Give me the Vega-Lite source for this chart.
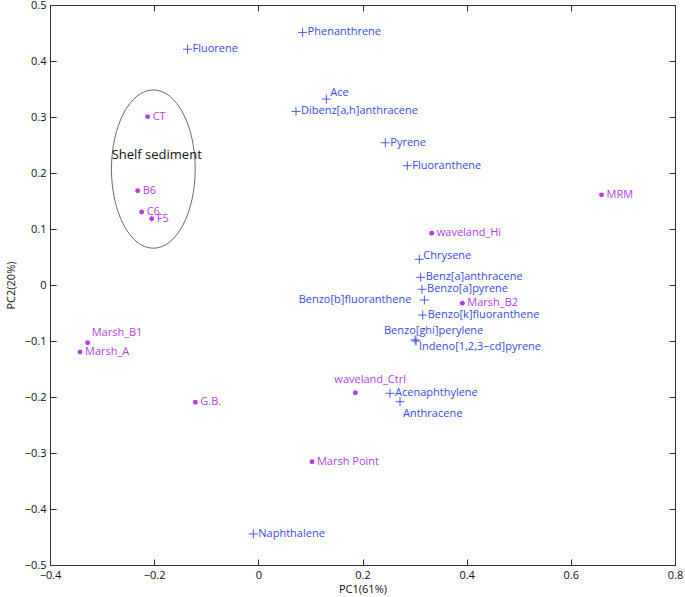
{
  "$schema": "https://vega.github.io/schema/vega-lite/v6.json",
  "width": 625,
  "height": 560,
  "autosize": {"type": "none"},
  "padding": {"left": 50, "top": 5, "right": 10, "bottom": 32},
  "background": "white",
  "config": {
    "view": {"stroke": null},
    "font": "Open Sans",
    "axis": {
      "domainColor": "#333",
      "tickColor": "#333",
      "labelColor": "#111",
      "titleColor": "#111",
      "labelFont": "Open Sans",
      "titleFont": "Open Sans",
      "labelFontSize": 11,
      "titleFontSize": 11,
      "titleFontWeight": "normal",
      "grid": false,
      "tickSize": -6,
      "labelFlush": false,
      "labelOverlap": false
    }
  },
  "datasets": {
    "points": [
      {"name": "CT", "pc1": -0.2125, "pc2": 0.3006, "type": "sample"},
      {"name": "B6", "pc1": -0.2317, "pc2": 0.1684, "type": "sample"},
      {"name": "C6", "pc1": -0.224, "pc2": 0.1304, "type": "sample"},
      {"name": "F5", "pc1": -0.2047, "pc2": 0.1184, "type": "sample"},
      {"name": "MRM", "pc1": 0.659, "pc2": 0.161, "type": "sample"},
      {"name": "waveland_Hi", "pc1": 0.333, "pc2": 0.0923, "type": "sample"},
      {"name": "Marsh_B2", "pc1": 0.3917, "pc2": -0.0327, "type": "sample"},
      {"name": "waveland_Ctrl", "pc1": 0.1863, "pc2": -0.1923, "type": "sample"},
      {"name": "Marsh Point", "pc1": 0.103, "pc2": -0.3155, "type": "sample"},
      {"name": "Marsh_B1", "pc1": -0.3277, "pc2": -0.103, "type": "sample"},
      {"name": "Marsh_A", "pc1": -0.3424, "pc2": -0.1196, "type": "sample"},
      {"name": "G.B.", "pc1": -0.121, "pc2": -0.2095, "type": "sample"},
      {"name": "Fluorene", "pc1": -0.136, "pc2": 0.421, "type": "PAH"},
      {"name": "Phenanthrene", "pc1": 0.085, "pc2": 0.451, "type": "PAH"},
      {"name": "Ace", "pc1": 0.1306, "pc2": 0.332, "type": "PAH"},
      {"name": "Dibenz[a,h]anthracene", "pc1": 0.0723, "pc2": 0.31, "type": "PAH"},
      {"name": "Pyrene", "pc1": 0.2438, "pc2": 0.254, "type": "PAH"},
      {"name": "Fluoranthene", "pc1": 0.286, "pc2": 0.213, "type": "PAH"},
      {"name": "Chrysene", "pc1": 0.309, "pc2": 0.0459, "type": "PAH"},
      {"name": "Benz[a]anthracene", "pc1": 0.3117, "pc2": 0.0137, "type": "PAH"},
      {"name": "Benzo[a]pyrene", "pc1": 0.3143, "pc2": -0.0077, "type": "PAH"},
      {"name": "Benzo[b]fluoranthene", "pc1": 0.3188, "pc2": -0.0268, "type": "PAH"},
      {"name": "Benzo[k]fluoranthene", "pc1": 0.3156, "pc2": -0.0536, "type": "PAH"},
      {"name": "Benzo[ghi]perylene", "pc1": 0.3008, "pc2": -0.098, "type": "PAH"},
      {"name": "Indeno[1,2,3−cd]pyrene", "pc1": 0.3028, "pc2": -0.1, "type": "PAH"},
      {"name": "Acenaphthylene", "pc1": 0.2528, "pc2": -0.1934, "type": "PAH"},
      {"name": "Anthracene", "pc1": 0.272, "pc2": -0.2084, "type": "PAH"},
      {"name": "Naphthalene", "pc1": -0.0096, "pc2": -0.4446, "type": "PAH"}
    ],
    "group": [
      {"label": "Shelf sediment", "cx": -0.2016, "cy": 0.207, "tx": -0.2816, "ty": 0.232}
    ]
  },
  "resolve": {"axis": {"x": "independent", "y": "independent"}},
  "layer": [
    {
      "data": {"name": "group"},
      "mark": {"type": "point", "shape": "M-0.529,0A0.529,1,0,1,0,0.529,0A0.529,1,0,1,0,-0.529,0Z", "size": 25060, "filled": false, "stroke": "#444", "strokeWidth": 0.8, "opacity": 1},
      "encoding": {
        "x": {"field": "cx", "type": "quantitative", "scale": {"domain": [-0.4, 0.8], "nice": false, "zero": false},
          "axis": {"orient": "bottom", "values": [-0.4, -0.2, 0, 0.2, 0.4, 0.6, 0.8], "format": "~g", "title": "PC1(61%)", "labelPadding": 10, "titlePadding": 3}},
        "y": {"field": "cy", "type": "quantitative", "scale": {"domain": [-0.5, 0.5], "nice": false, "zero": false},
          "axis": {"orient": "left", "values": [-0.5, -0.4, -0.3, -0.2, -0.1, 0, 0.1, 0.2, 0.3, 0.4, 0.5], "format": "~g", "title": "PC2(20%)", "labelPadding": 10, "titlePadding": 8}}
      }
    },
    {
      "data": {"name": "group"},
      "mark": {"type": "text", "align": "left", "baseline": "middle", "fontSize": 13, "color": "#111", "font": "Open Sans"},
      "encoding": {
        "x": {"field": "tx", "type": "quantitative", "axis": {"orient": "top", "values": [-0.4, -0.2, 0, 0.2, 0.4, 0.6, 0.8], "labels": false, "title": null}},
        "y": {"field": "ty", "type": "quantitative", "axis": {"orient": "right", "values": [-0.5, -0.4, -0.3, -0.2, -0.1, 0, 0.1, 0.2, 0.3, 0.4, 0.5], "labels": false, "title": null}},
        "text": {"field": "label"}
      }
    },
    {
      "data": {"name": "points"},
      "transform": [{"filter": "datum.type === 'PAH'"}],
      "mark": {"type": "point", "shape": "M-1,0H1M0,-1V1", "size": 81, "filled": false, "strokeWidth": 0.9, "opacity": 1},
      "encoding": {
        "x": {"field": "pc1", "type": "quantitative", "axis": null},
        "y": {"field": "pc2", "type": "quantitative", "axis": null},
        "color": {"field": "type", "type": "nominal", "scale": {"domain": ["PAH", "sample"], "range": ["#3a4bdb", "#b23ee4"]}, "legend": null}
      }
    },
    {
      "data": {"name": "points"},
      "transform": [{"filter": "datum.type === 'sample'"}],
      "mark": {"type": "circle", "size": 24, "opacity": 1},
      "encoding": {
        "x": {"field": "pc1", "type": "quantitative", "axis": null},
        "y": {"field": "pc2", "type": "quantitative", "axis": null},
        "color": {"field": "type", "type": "nominal", "legend": null}
      }
    },
    {
      "data": {"name": "points"},
      "transform": [{"filter": {"not": {"field": "name", "oneOf": ["Ace", "Chrysene", "Benzo[b]fluoranthene", "Benzo[ghi]perylene", "Indeno[1,2,3−cd]pyrene", "waveland_Ctrl", "Anthracene", "Marsh_B1"]}}}],
      "mark": {"type": "text", "align": "left", "baseline": "middle", "dx": 5, "fontSize": 11, "font": "Open Sans"},
      "encoding": {
        "x": {"field": "pc1", "type": "quantitative", "axis": null},
        "y": {"field": "pc2", "type": "quantitative", "axis": null},
        "text": {"field": "name"},
        "color": {"field": "type", "type": "nominal", "legend": null}
      }
    },
    {
      "data": {"name": "points"},
      "transform": [{"filter": {"field": "name", "oneOf": ["Ace"]}}],
      "mark": {"type": "text", "align": "left", "baseline": "middle", "dx": 4, "dy": -6, "fontSize": 11, "font": "Open Sans"},
      "encoding": {
        "x": {"field": "pc1", "type": "quantitative", "axis": null},
        "y": {"field": "pc2", "type": "quantitative", "axis": null},
        "text": {"field": "name"},
        "color": {"field": "type", "type": "nominal", "legend": null}
      }
    },
    {
      "data": {"name": "points"},
      "transform": [{"filter": {"field": "name", "oneOf": ["Chrysene"]}}],
      "mark": {"type": "text", "align": "left", "baseline": "middle", "dx": 4, "dy": -3, "fontSize": 11, "font": "Open Sans"},
      "encoding": {
        "x": {"field": "pc1", "type": "quantitative", "axis": null},
        "y": {"field": "pc2", "type": "quantitative", "axis": null},
        "text": {"field": "name"},
        "color": {"field": "type", "type": "nominal", "legend": null}
      }
    },
    {
      "data": {"name": "points"},
      "transform": [{"filter": {"field": "name", "oneOf": ["Benzo[b]fluoranthene"]}}],
      "mark": {"type": "text", "align": "right", "baseline": "middle", "dx": -13, "fontSize": 11, "font": "Open Sans"},
      "encoding": {
        "x": {"field": "pc1", "type": "quantitative", "axis": null},
        "y": {"field": "pc2", "type": "quantitative", "axis": null},
        "text": {"field": "name"},
        "color": {"field": "type", "type": "nominal", "legend": null}
      }
    },
    {
      "data": {"name": "points"},
      "transform": [{"filter": {"field": "name", "oneOf": ["Benzo[ghi]perylene"]}}],
      "mark": {"type": "text", "align": "left", "baseline": "middle", "dx": -31, "dy": -9, "fontSize": 11, "font": "Open Sans"},
      "encoding": {
        "x": {"field": "pc1", "type": "quantitative", "axis": null},
        "y": {"field": "pc2", "type": "quantitative", "axis": null},
        "text": {"field": "name"},
        "color": {"field": "type", "type": "nominal", "legend": null}
      }
    },
    {
      "data": {"name": "points"},
      "transform": [{"filter": {"field": "name", "oneOf": ["Indeno[1,2,3−cd]pyrene"]}}],
      "mark": {"type": "text", "align": "left", "baseline": "middle", "dx": 3, "dy": 6, "fontSize": 11, "font": "Open Sans"},
      "encoding": {
        "x": {"field": "pc1", "type": "quantitative", "axis": null},
        "y": {"field": "pc2", "type": "quantitative", "axis": null},
        "text": {"field": "name"},
        "color": {"field": "type", "type": "nominal", "legend": null}
      }
    },
    {
      "data": {"name": "points"},
      "transform": [{"filter": {"field": "name", "oneOf": ["waveland_Ctrl"]}}],
      "mark": {"type": "text", "align": "left", "baseline": "middle", "dx": -21, "dy": -13, "fontSize": 11, "font": "Open Sans"},
      "encoding": {
        "x": {"field": "pc1", "type": "quantitative", "axis": null},
        "y": {"field": "pc2", "type": "quantitative", "axis": null},
        "text": {"field": "name"},
        "color": {"field": "type", "type": "nominal", "legend": null}
      }
    },
    {
      "data": {"name": "points"},
      "transform": [{"filter": {"field": "name", "oneOf": ["Anthracene"]}}],
      "mark": {"type": "text", "align": "left", "baseline": "middle", "dx": 3, "dy": 12, "fontSize": 11, "font": "Open Sans"},
      "encoding": {
        "x": {"field": "pc1", "type": "quantitative", "axis": null},
        "y": {"field": "pc2", "type": "quantitative", "axis": null},
        "text": {"field": "name"},
        "color": {"field": "type", "type": "nominal", "legend": null}
      }
    },
    {
      "data": {"name": "points"},
      "transform": [{"filter": {"field": "name", "oneOf": ["Marsh_B1"]}}],
      "mark": {"type": "text", "align": "left", "baseline": "middle", "dx": 4, "dy": -10, "fontSize": 11, "font": "Open Sans"},
      "encoding": {
        "x": {"field": "pc1", "type": "quantitative", "axis": null},
        "y": {"field": "pc2", "type": "quantitative", "axis": null},
        "text": {"field": "name"},
        "color": {"field": "type", "type": "nominal", "legend": null}
      }
    }
  ]
}
